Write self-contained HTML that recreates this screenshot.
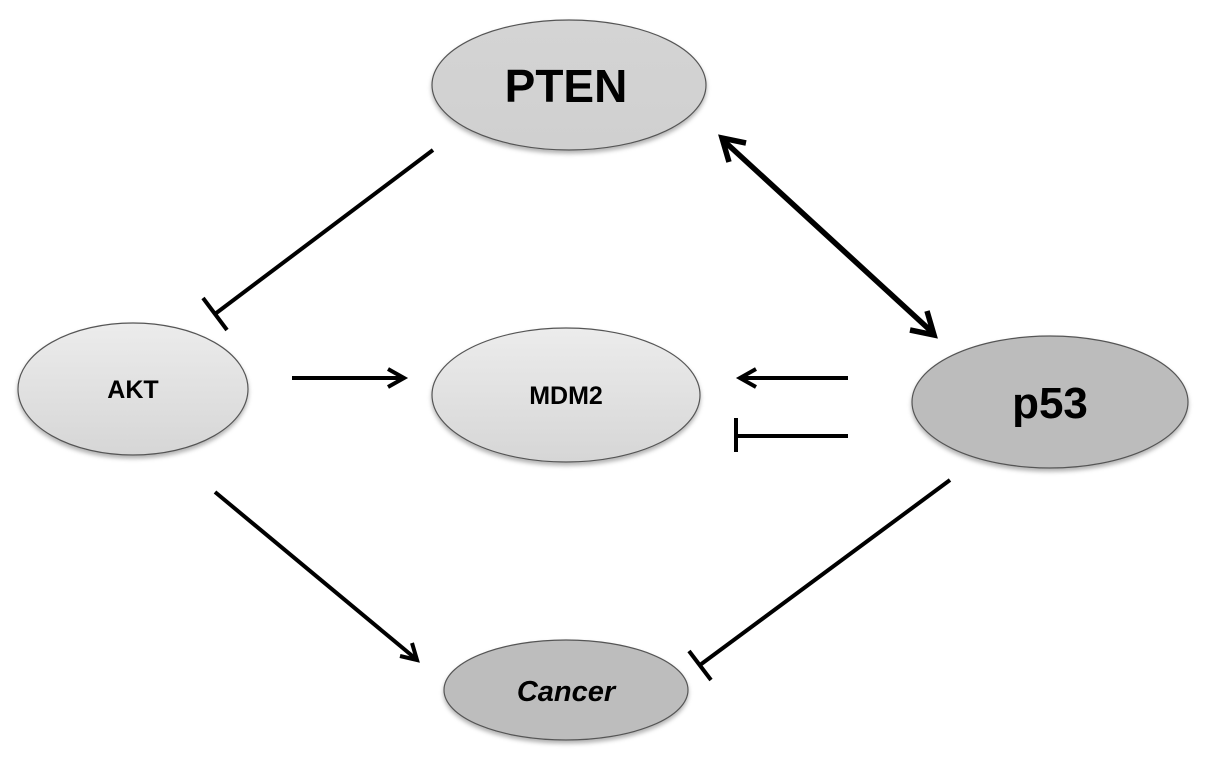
<!DOCTYPE html>
<html><head><meta charset="utf-8"><style>html,body{margin:0;padding:0;background:#fff}svg{display:block}</style></head><body>
<svg width="1205" height="769" viewBox="0 0 1205 769" xmlns="http://www.w3.org/2000/svg">
<defs>
<linearGradient id="gl" x1="0" y1="0" x2="0" y2="1"><stop offset="0" stop-color="#ececec"/><stop offset="1" stop-color="#d6d6d6"/></linearGradient>
<linearGradient id="gm" x1="0" y1="0" x2="0" y2="1"><stop offset="0" stop-color="#d4d4d4"/><stop offset="1" stop-color="#d0d0d0"/></linearGradient>
<filter id="sh" x="-10%" y="-10%" width="120%" height="130%"><feDropShadow dx="0" dy="3" stdDeviation="2" flood-color="#000" flood-opacity="0.3"/></filter>
</defs>
<g stroke="#555" stroke-width="1.2" filter="url(#sh)">
<ellipse cx="569" cy="85" rx="137" ry="65" fill="url(#gm)"/>
<ellipse cx="133" cy="389" rx="115" ry="66" fill="url(#gl)"/>
<ellipse cx="566" cy="395" rx="134" ry="67" fill="url(#gl)"/>
<ellipse cx="1050" cy="402" rx="138" ry="66" fill="#bcbcbc"/>
<ellipse cx="566" cy="690" rx="122" ry="50" fill="#bdbdbd"/>
</g>
<g font-family="'Liberation Sans',sans-serif" font-weight="bold" text-anchor="middle" fill="#000">
<text x="566" y="102" font-size="46">PTEN</text>
<text x="133" y="398" font-size="25">AKT</text>
<text x="566" y="404" font-size="25">MDM2</text>
<text x="1050" y="418" font-size="44">p53</text>
<text x="566" y="701" font-size="29" font-style="italic">Cancer</text>
</g>
<g stroke="#000" stroke-width="4" fill="none" stroke-linecap="butt">
<line x1="433" y1="150" x2="215" y2="314"/>
<line x1="203" y1="298" x2="227" y2="330"/>
<line x1="292" y1="378" x2="403" y2="378"/>
<polyline points="388,369 404,378 388,387" stroke-linejoin="miter"/>
<line x1="848" y1="378" x2="741" y2="378"/>
<polyline points="756,369 740,378 756,387"/>
<line x1="848" y1="436" x2="737" y2="436"/>
<line x1="736" y1="418" x2="736" y2="452"/>
<line x1="215" y1="492" x2="416" y2="659"/>
<polyline points="400,656 417,660 412,643"/>
<line x1="950" y1="480" x2="700" y2="665"/>
<line x1="689" y1="651" x2="711" y2="680"/>
</g>
<g stroke="#000" stroke-width="5.5" fill="none">
<line x1="724" y1="141" x2="932" y2="332"/>
<polyline points="746,143 722,138 729,162"/>
<polyline points="910,330 934,335 927,311"/>
</g>
</svg>
</body></html>
